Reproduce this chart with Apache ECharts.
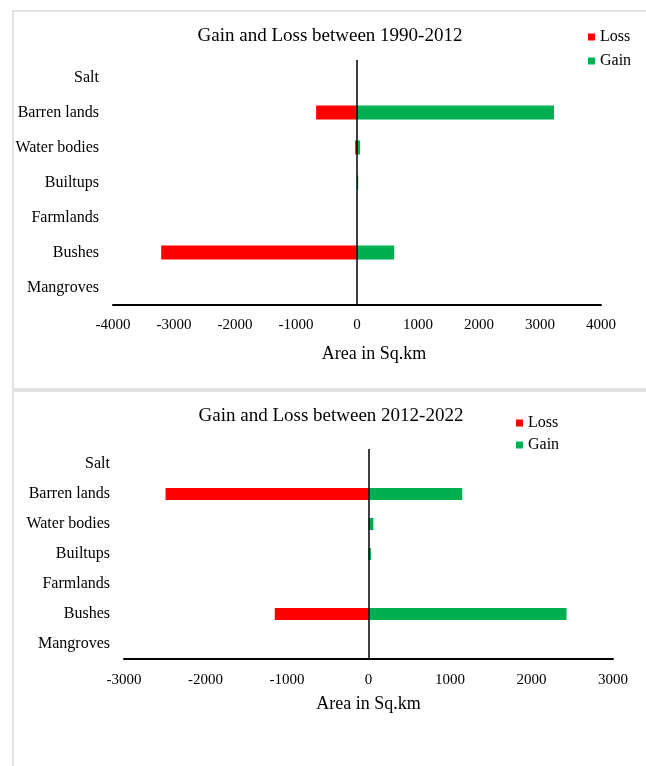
<!DOCTYPE html>
<html>
<head>
<meta charset="utf-8">
<script src="https://cdn.jsdelivr.net/npm/echarts@6/dist/echarts.min.js"></script>
<style>
  html, body { margin: 0; padding: 0; background: #fff; }
  #chart { width: 646px; height: 766px; }
</style>
</head>
<body>
<div id="chart"></div>
<script>
// Land-cover classes, listed top to bottom
const categories = ['Salt', 'Barren lands', 'Water bodies', 'Builtups', 'Farmlands', 'Bushes', 'Mangroves'];

// Change in area (sq.km), 1990-2012
const loss1990 = [0, -670, -30, 0, 0, -3210, 0];
const gain1990 = [0, 3230, 50, 20, 0, 610, 0];

// Change in area (sq.km), 2012-2022
const loss2012 = [0, -2490, 0, 0, 0, -1150, 0];
const gain2012 = [0, 1150, 60, 30, 0, 2430, 0];

const titles = ['Gain and Loss between 1990-2012', 'Gain and Loss between 2012-2022'];
const axisName = 'Area in Sq.km';

const FONT = '"Liberation Serif", "Times New Roman", serif';
const RED = '#FF0000';
const GREEN = '#00B050';

const chart = echarts.init(document.getElementById('chart'), null, { renderer: 'canvas' });

function xAxisCfg(gridIndex, lim, namePadLeft, nameGap, labelMargin) {
  return {
    type: 'value', gridIndex, min: -lim, max: lim, interval: 1000,
    axisLine: { show: true, onZero: false, lineStyle: { color: '#000', width: 2 } },
    axisTick: { show: false },
    splitLine: { show: false },
    axisLabel: { color: '#000', fontFamily: FONT, fontSize: 15, margin: labelMargin,
      formatter: v => String(v) },
    name: axisName, nameLocation: 'middle', nameGap,
    nameTextStyle: { color: '#000', fontFamily: FONT, fontSize: 18, padding: [0, 0, 0, namePadLeft] }
  };
}

function yAxisCfg(gridIndex) {
  return {
    type: 'category', gridIndex, data: categories, inverse: true,
    axisLine: { show: false, onZero: false },
    axisTick: { show: false },
    splitLine: { show: false },
    axisLabel: { color: '#000', fontFamily: FONT, fontSize: 16, margin: 14, padding: [3, 0, 0, 0] }
  };
}

function zeroLine() {
  return {
    silent: true, symbol: 'none', animation: false,
    label: { show: false },
    lineStyle: { color: '#000', width: 1.5, type: 'solid' },
    data: [{ xAxis: 0 }]
  };
}

function legendCfg(left, top, gap) {
  return {
    orient: 'vertical', left, top, padding: 0, itemGap: gap,
    icon: 'rect', itemWidth: 7, itemHeight: 7,
    data: ['Loss', 'Gain'],
    textStyle: { color: '#000', fontFamily: FONT, fontSize: 16, lineHeight: 16 },
    selectedMode: false
  };
}

const option = {
  animation: false,
  backgroundColor: '#fff',
  graphic: [
    { type: 'rect', shape: { x: 13, y: 11, width: 645, height: 378 },
      style: { fill: 'none', stroke: '#D9D9D9', lineWidth: 1.5 } },
    { type: 'rect', shape: { x: 13, y: 391, width: 645, height: 400 },
      style: { fill: 'none', stroke: '#D9D9D9', lineWidth: 1.5 } }
  ],
  title: [
    { text: titles[0], left: 330, top: 26, textAlign: 'center', padding: 0,
      textStyle: { color: '#000', fontFamily: FONT, fontSize: 19, fontWeight: 'normal', lineHeight: 20 } },
    { text: titles[1], left: 331, top: 406, textAlign: 'center', padding: 0,
      textStyle: { color: '#000', fontFamily: FONT, fontSize: 19, fontWeight: 'normal', lineHeight: 20 } }
  ],
  legend: [legendCfg(588, 29, 8), legendCfg(516, 415, 6)],
  grid: [
    { left: 113, right: 45, top: 60, height: 245 },
    { left: 124, right: 33, top: 449, height: 210 }
  ],
  xAxis: [xAxisCfg(0, 4000, 34, 40, 13), xAxisCfg(1, 3000, 0, 36, 14)],
  yAxis: [yAxisCfg(0), yAxisCfg(1)],
  series: [
    { name: 'Loss', type: 'bar', xAxisIndex: 0, yAxisIndex: 0, data: loss1990,
      barWidth: 14, barGap: '-100%', itemStyle: { color: RED } },
    { name: 'Gain', type: 'bar', xAxisIndex: 0, yAxisIndex: 0, data: gain1990,
      barWidth: 14, barGap: '-100%', itemStyle: { color: GREEN }, markLine: zeroLine() },
    { name: 'Loss', type: 'bar', xAxisIndex: 1, yAxisIndex: 1, data: loss2012,
      barWidth: 12, barGap: '-100%', itemStyle: { color: RED } },
    { name: 'Gain', type: 'bar', xAxisIndex: 1, yAxisIndex: 1, data: gain2012,
      barWidth: 12, barGap: '-100%', itemStyle: { color: GREEN }, markLine: zeroLine() }
  ]
};

chart.setOption(option);
</script>
</body>
</html>
